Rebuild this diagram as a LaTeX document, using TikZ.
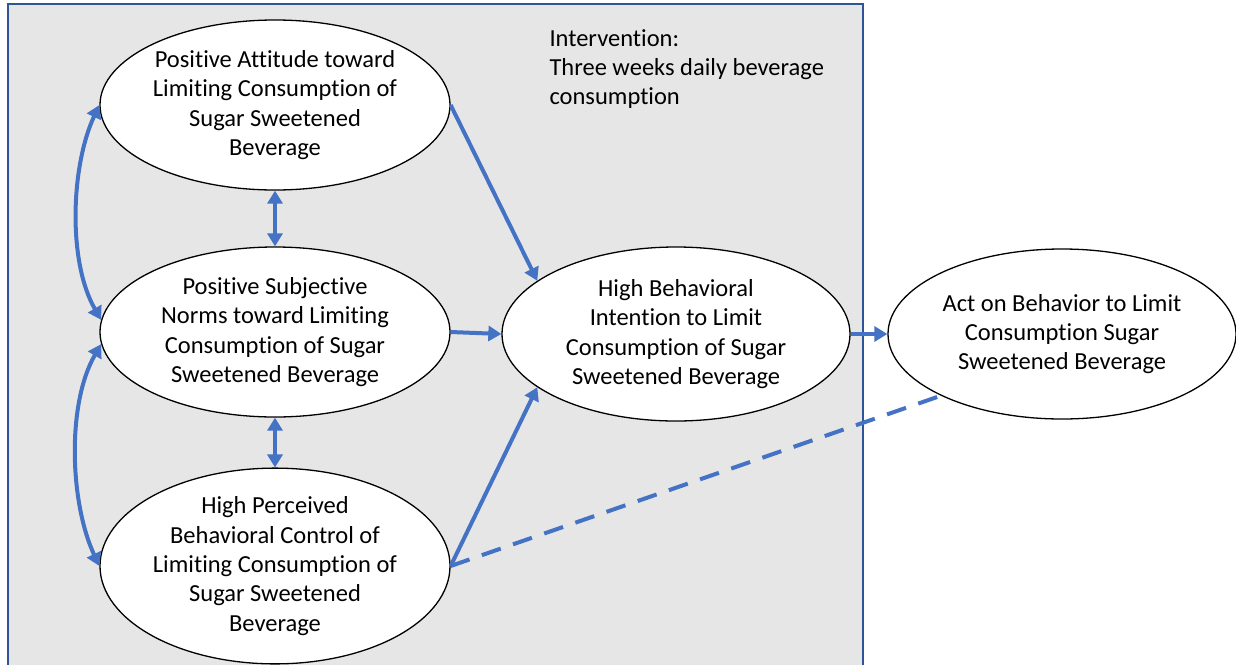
\documentclass[tikz,border=0pt]{standalone}
\usepackage{fontspec}
\setmainfont[Ligatures={NoCommon}]{Carlito}
\usetikzlibrary{shapes.geometric,arrows.meta}
\definecolor{linkblue}{RGB}{68,114,196}
\definecolor{frameblue}{RGB}{47,85,151}
\definecolor{panelgray}{RGB}{231,230,230}
\tikzset{
  construct/.style={ellipse,draw=black,line width=1.3pt,fill=white,
    minimum width=350pt,minimum height=170pt,inner sep=0pt,align=center,
    font=\fontsize{24.5}{29.3}\selectfont},
  link/.style={draw=linkblue,line width=4pt,-{Triangle[length=13pt,width=15pt]}},
  bilink/.style={link,{Triangle[length=13pt,width=15pt]}-{Triangle[length=13pt,width=15pt]}},
}
\begin{document}
\begin{tikzpicture}[x=1pt,y=-1pt]
            \useasboundingbox (0,0) rectangle (1236,664);
            \clip (0,0) rectangle (1236,664);
            \draw[frameblue,line width=1.3pt,fill=panelgray] (8,4) rectangle (863,680);

            \node[anchor=north west,align=left,font=\fontsize{24.5}{29.3}\selectfont] (interv) at (546,26)
              {Intervention:\\Three weeks daily beverage\\consumption};

            \node[construct] (att) at (275,105) {Positive Attitude toward\\Limiting Consumption of\\Sugar Sweetened\\Beverage};
            \node[construct] (norms) at (275,332) {Positive Subjective\\Norms toward Limiting\\Consumption of Sugar\\Sweetened Beverage};
            \node[construct,minimum height=176pt] (ctrl) at (275,566) {High Perceived\\Behavioral Control of\\Limiting Consumption of\\Sugar Sweetened\\Beverage};
            \node[construct,minimum width=348pt,minimum height=174pt] (intent) at (676,334) {High Behavioral\\Intention to Limit\\Consumption of Sugar\\Sweetened Beverage};
            \node[construct,minimum width=348pt] (act) at (1062,334) {Act on Behavior to Limit\\Consumption Sugar\\Sweetened Beverage};

            \draw[bilink] (att.south) -- (norms.north);
            \draw[bilink] (norms.south) -- (ctrl.north);
            \draw[bilink] (att.west) to[out=245,in=120,looseness=0.8] (norms.176);
            \draw[bilink] (norms.184) to[out=240,in=115,looseness=0.8] (ctrl.west);

            \draw[link] (att.east) -- (intent.159);
            \draw[link] (norms.east) -- (intent.west);
            \draw[link] (ctrl.east) -- (intent.201);
            \draw[link] (intent.east) -- (act.west);
            \draw[linkblue,line width=4pt,dash pattern=on 20pt off 13pt] (ctrl.east) -- (act.207);
\end{tikzpicture}
\end{document}
